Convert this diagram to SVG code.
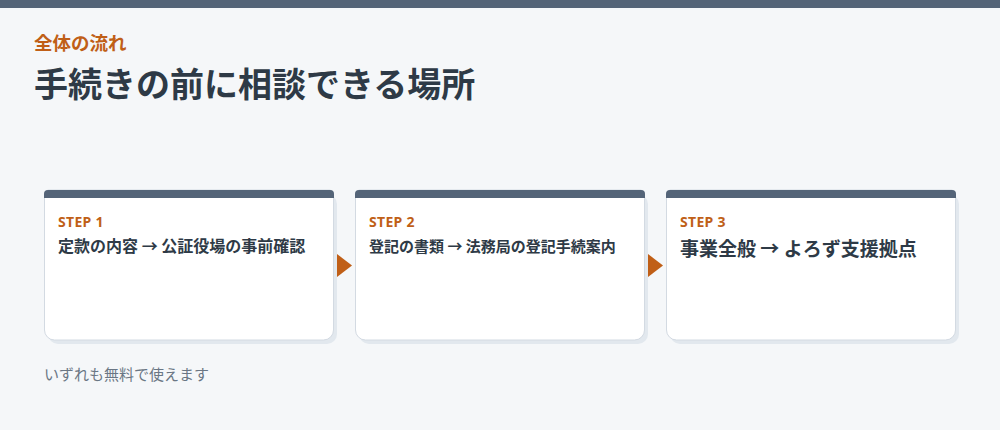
<svg xmlns="http://www.w3.org/2000/svg" width="1000" height="430" viewBox="0 0 1000 430">
<defs>
<style>
.jp{font-family:"Noto Sans CJK JP","Noto Sans",sans-serif;}
.eyebrow{font-size:18.5px;font-weight:700;fill:#c05f17;}
.title{font-size:34px;font-weight:700;fill:#2e3a46;}
.step{font-family:"Noto Sans","Noto Sans CJK JP",sans-serif;font-size:14px;font-weight:700;fill:#c05f17;letter-spacing:0.3px;}
.body{font-size:16px;font-weight:700;fill:#2e3a46;}
.body-md{font-size:15px;font-weight:700;fill:#2e3a46;}
.body-lg{font-size:19px;font-weight:700;fill:#2e3a46;}
.note{font-size:15px;fill:#6a7684;}
.shadow{fill:#e2e8ee;}
.card{fill:#ffffff;stroke:#d3dae2;stroke-width:1;}
.bar{fill:#546478;}
.arrow{fill:#c05f17;}
</style>
</defs>
<rect x="0" y="0" width="1000" height="430" fill="#f5f7f9"/>
<rect x="0" y="0" width="1000" height="8" fill="#546478"/>
<text class="jp eyebrow" x="34" y="50">全体の流れ</text>
<text class="jp title" x="34" y="97">手続きの前に相談できる場所</text>

<g id="step1">
<rect class="shadow" x="48" y="194" width="289" height="150" rx="10"/>
<path class="card" d="M44.5,194 a4,4 0 0 1 4,-4 h281 a4,4 0 0 1 4,4 v136 a10,10 0 0 1 -10,10 h-269 a10,10 0 0 1 -10,-10 z"/>
<path class="bar" d="M44,194 a4,4 0 0 1 4,-4 h282 a4,4 0 0 1 4,4 v4 h-290 z"/>
<text class="step" x="58" y="227">STEP 1</text>
<text class="jp body" x="58" y="252">定款の内容 → 公証役場の事前確認</text>
</g>

<g id="step2">
<rect class="shadow" x="359" y="194" width="289" height="150" rx="10"/>
<path class="card" d="M355.5,194 a4,4 0 0 1 4,-4 h281 a4,4 0 0 1 4,4 v136 a10,10 0 0 1 -10,10 h-269 a10,10 0 0 1 -10,-10 z"/>
<path class="bar" d="M355,194 a4,4 0 0 1 4,-4 h282 a4,4 0 0 1 4,4 v4 h-290 z"/>
<text class="step" x="369" y="227">STEP 2</text>
<text class="jp body-md" x="369" y="252">登記の書類 → 法務局の登記手続案内</text>
</g>

<g id="step3">
<rect class="shadow" x="670" y="194" width="289" height="150" rx="10"/>
<path class="card" d="M666.5,194 a4,4 0 0 1 4,-4 h281 a4,4 0 0 1 4,4 v136 a10,10 0 0 1 -10,10 h-269 a10,10 0 0 1 -10,-10 z"/>
<path class="bar" d="M666,194 a4,4 0 0 1 4,-4 h282 a4,4 0 0 1 4,4 v4 h-290 z"/>
<text class="step" x="680" y="227">STEP 3</text>
<text class="jp body-lg" x="680" y="256">事業全般 → よろず支援拠点</text>
</g>

<g id="connectors">
<polygon class="arrow" points="337,254 352,265.5 337,277"/>
<polygon class="arrow" points="648,254 663,265.5 648,277"/>
</g>

<text class="jp note" x="44" y="380">いずれも無料で使えます</text>
</svg>
